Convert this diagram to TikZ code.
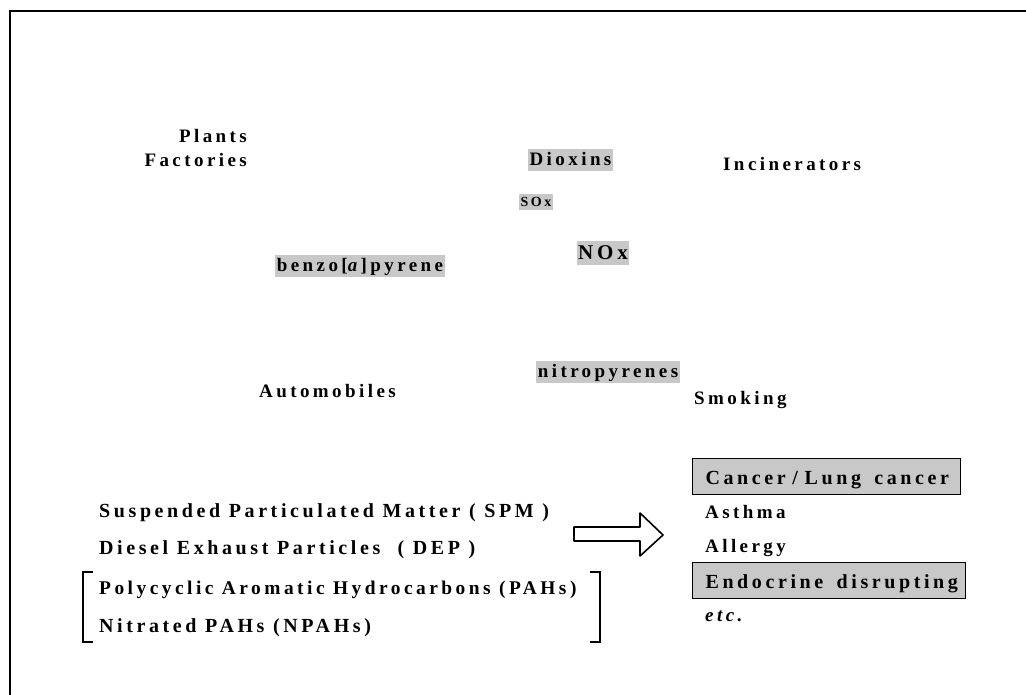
\documentclass[tikz,border=0pt]{standalone}
\usepackage{fontspec}
\setmainfont[LetterSpace=18]{Liberation Serif}
\usepackage{xcolor}
\usepackage{tikz}
\usetikzlibrary{shapes,arrows,positioning}
\definecolor{dots}{RGB}{200, 200, 200}
\tikzstyle{word} = [font=\bfseries\fontsize{19}{24}\selectfont, inner sep=0pt, anchor=base west]
\tikzstyle{particle} = [word, font=\bfseries\fontsize{20}{24}\selectfont]
\tikzstyle{agent} = [word, fill=dots, inner sep=1.5pt, text height=15pt, text depth=4pt, anchor=center]
\tikzstyle{effect} = [word, font=\bfseries\fontsize{20}{24}\selectfont, draw, fill=dots, line width=1.2pt, anchor=west, minimum height=36pt, inner xsep=13pt, inner ysep=0pt, text height=16pt, text depth=0pt]
\tikzstyle{bracket} = [draw, line width=1.6pt]

\begin{document}
\begin{tikzpicture}[x=1pt, y=-1pt]
    \useasboundingbox (0,0) rectangle (1026,695);
    \draw [line width=2pt] (10,695) -- (10,11) -- (1026,11);

    % sources
    \node [word, anchor=base east] (plants) at (247,143) {Plants};
    \node [word, anchor=base east] (factories) at ([yshift=-24pt]plants.base east) {Factories};
    \node [word] (incinerators) at (723,171) {Incinerators};
    \node [word] (automobiles) at (259,397) {Automobiles};
    \node [word] (smoking) at (694,404) {Smoking};

    % pollutants
    \node [agent] (dioxins) at (570.5,160.5) {Dioxins};
    \node [agent, font=\bfseries\fontsize{14}{16}\selectfont, text height=11pt, text depth=2pt] (sox) at (536,202.5) {SOx};
    \node [agent, font=\bfseries\fontsize{21}{24}\selectfont, text height=17pt, text depth=4pt] (nox) at (603,253.5) {NOx};
    \node [agent] (bap) at (360,266) {benzo[\textit{a}]pyrene};
    \node [agent] (nitro) at (608,371.5) {nitropyrenes};

    % particles
    \node [particle] (spm) at (99,517) {Suspended Particulated Matter ( SPM )};
    \node [particle] (dep) at ([yshift=-37pt]spm.base west) {Diesel Exhaust Particles \ ( DEP )};
    \node [particle, font=\bfseries\fontsize{19.4}{24}\selectfont] (pahs) at ([yshift=-40pt]dep.base west) {Polycyclic Aromatic Hydrocarbons (PAHs)};
    \node [particle] (npahs) at ([yshift=-38pt]pahs.base west) {Nitrated PAHs (NPAHs)};
    \path [bracket] (93,572) -- (83,572) -- (83,642) -- (93,642);
    \path [bracket] (590,572) -- (600,572) -- (600,642) -- (590,642);

    % effects
    \node [effect, text width=242pt] (cancer) at (692,476.5) {Cancer / Lung\ \ cancer};
    \node [word] (asthma) at (705,518) {Asthma};
    \node [word] (allergy) at ([yshift=-34pt]asthma.base west) {Allergy};
    \node [effect, text width=247pt] (endocrine) at (692,580.5) {Endocrine\ \ disrupting};
    \node [word] (etc) at (705,621) {\textit{etc.}};

    \draw [line width=1.6pt, line join=round] (574,527) -- (640,527) -- (640,513) -- (663,535) -- (640,556) -- (640,541) -- (574,541) -- cycle;
\end{tikzpicture}
\end{document}
